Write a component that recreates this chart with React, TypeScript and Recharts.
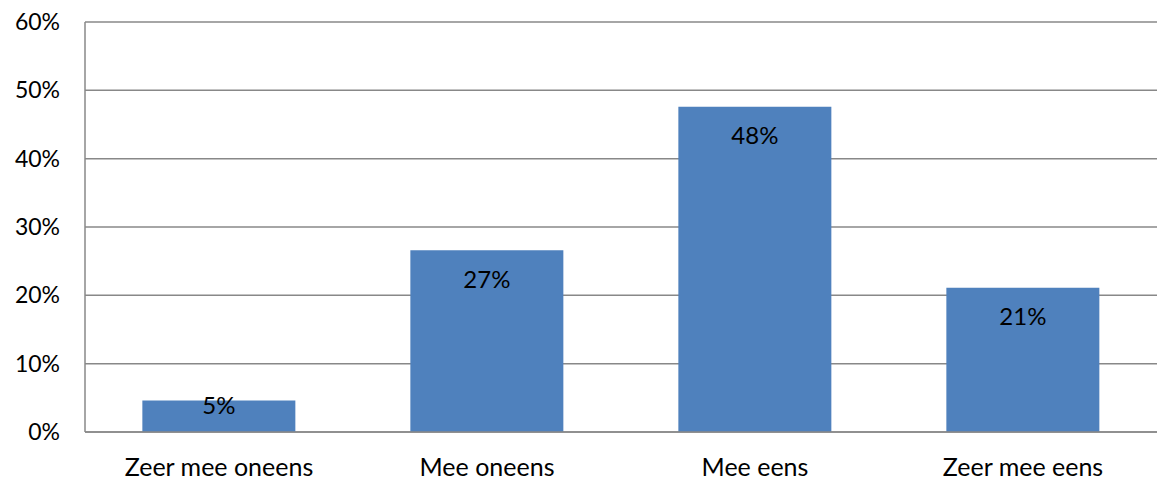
import React from "react";
import { BarChart, Bar, XAxis, YAxis, CartesianGrid, LabelList } from "recharts";

const categories = ["Zeer mee oneens", "Mee oneens", "Mee eens", "Zeer mee eens"];
const values = [4.6, 26.6, 47.6, 21.1];
const yTicks = [0, 10, 20, 30, 40, 50, 60];

const data = categories.map((name, i) => ({ name, value: values[i] }));

const FONT = "Lato, 'Open Sans', sans-serif";
const FS = 24;
const XFS = 25;
const YFS = 23;

const renderLabel = (props: any) => {
  const { x, y, width, height, value } = props;
  const capTop = height > 45 ? y + 20 : y - 4;
  return (
    <text
      x={x + width / 2}
      y={capTop}
      dy="0.72em"
      textAnchor="middle"
      fill="#000"
      fontFamily={FONT}
      fontSize={FS}
    >
      {Math.round(value)}%
    </text>
  );
};

export default function App() {
  return (
    <div style={{ position: "fixed", left: 0, top: 0, width: 1157, height: 493, background: "#fff" }}>
      <BarChart
        width={1157}
        height={493}
        data={data}
        margin={{ top: 22, right: 0, left: 0, bottom: 0 }}
        barCategoryGap="21.4%"
      >
        <CartesianGrid vertical={false} stroke="#888" strokeWidth={1.5} />
        <XAxis
          dataKey="name"
          height={61}
          tickLine={false}
          axisLine={{ stroke: "#888", strokeWidth: 1.5 }}
          tick={{ fill: "#000", fontFamily: FONT, fontSize: XFS }}
          tickMargin={20}
        />
        <YAxis
          width={85}
          domain={[0, 60]}
          ticks={yTicks}
          tickFormatter={(v: number) => `${v}%`}
          tickLine={false}
          axisLine={{ stroke: "#888", strokeWidth: 1.5 }}
          tick={{ fill: "#000", fontFamily: FONT, fontSize: YFS }}
          tickMargin={19}
        />
        <Bar dataKey="value" fill="#4F81BD" isAnimationActive={false}>
          <LabelList dataKey="value" content={renderLabel} />
        </Bar>
      </BarChart>
    </div>
  );
}
